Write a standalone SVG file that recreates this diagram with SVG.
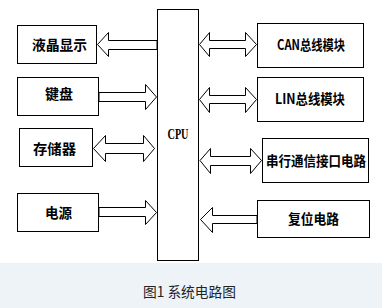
<svg xmlns="http://www.w3.org/2000/svg" width="382" height="308" viewBox="0 0 382 308">
<style>
.box{fill:#fff;stroke:#000;stroke-width:1}
.arr{fill:#fff;stroke:#000;stroke-width:1;stroke-linejoin:miter}
.lbl{font-family:"Noto Sans CJK SC","Liberation Serif",serif;font-weight:bold;font-size:14px;fill:#000;text-anchor:middle}
.en{font-family:"Liberation Serif","Noto Sans CJK SC",serif;font-weight:bold}
.cap{font-family:"Noto Sans CJK SC","Liberation Sans",sans-serif;font-size:14px;fill:#222}
</style>
<rect x="0" y="0" width="382" height="263" fill="#fff"/>
<rect x="0" y="263" width="382" height="45" fill="#eef3f8"/>
<g id="connectors">
<polygon class="arr" points="157,40.5 108.5,40.5 108.5,32.5 97.5,44.5 108.5,56.5 108.5,49.5 157,49.5"/>
<polygon class="arr" points="99,92.5 145.5,92.5 145.5,84.5 156.5,97 145.5,109.5 145.5,101.5 99,101.5"/>
<polygon class="arr" points="93.5,148.5 105.5,135.5 105.5,143.5 143.5,143.5 143.5,135.5 154.5,148.5 143.5,161.5 143.5,153.5 105.5,153.5 105.5,161.5"/>
<polygon class="arr" points="99,207.5 145.5,207.5 145.5,200.5 156.5,212.5 145.5,224.5 145.5,216.5 99,216.5"/>
<polygon class="arr" points="199.5,44.5 209.5,32.5 209.5,40.5 245.5,40.5 245.5,32.5 256.5,44.5 245.5,56.5 245.5,48.5 209.5,48.5 209.5,56.5"/>
<polygon class="arr" points="199.5,99.5 209.5,87.5 209.5,95.5 245.5,95.5 245.5,87.5 256.5,99.5 245.5,112.5 245.5,103.5 209.5,103.5 209.5,112.5"/>
<polygon class="arr" points="200,160.5 210.5,148.5 210.5,156.5 250.5,156.5 250.5,148.5 261.5,160.5 250.5,173.5 250.5,165.5 210.5,165.5 210.5,173.5"/>
<polygon class="arr" points="257,215.5 212.5,215.5 212.5,207.5 200.5,219.5 212.5,232.5 212.5,223.5 257,223.5"/>
</g>
<g id="cpu">
<rect class="box" x="157.5" y="9.5" width="41" height="251"/>
<text class="lbl en" x="178" y="139" font-size="12" textLength="21" lengthAdjust="spacingAndGlyphs">CPU</text>
</g>
<g id="lcd">
<rect class="box" x="17.5" y="25.5" width="79" height="38"/>
<text class="lbl" x="59.5" y="49.5" textLength="55" lengthAdjust="spacingAndGlyphs">液晶显示</text>
</g>
<g id="keyboard">
<rect class="box" x="17.5" y="77.5" width="81" height="38"/>
<text class="lbl" x="59" y="98.5">键盘</text>
</g>
<g id="storage">
<rect class="box" x="19.5" y="128.5" width="73" height="38"/>
<text class="lbl" x="54.5" y="153.5" textLength="43" lengthAdjust="spacingAndGlyphs">存储器</text>
</g>
<g id="power">
<rect class="box" x="17.5" y="193.5" width="81" height="38"/>
<text class="lbl" x="58.5" y="217.5" textLength="27" lengthAdjust="spacingAndGlyphs">电源</text>
</g>
<g id="can">
<rect class="box" x="257.5" y="23.5" width="106" height="44"/>
<text class="lbl" x="311" y="49.5" font-size="13" textLength="68" lengthAdjust="spacingAndGlyphs">CAN总线模块</text>
</g>
<g id="lin">
<rect class="box" x="257.5" y="77.5" width="106" height="44"/>
<text class="lbl" x="310" y="104" font-size="13" textLength="70" lengthAdjust="spacingAndGlyphs">LIN总线模块</text>
</g>
<g id="serial">
<rect class="box" x="262.5" y="138.5" width="106" height="44"/>
<text class="lbl" x="316" y="166" font-size="13.5" textLength="100" lengthAdjust="spacingAndGlyphs">串行通信接口电路</text>
</g>
<g id="reset">
<rect class="box" x="257.5" y="200.5" width="112" height="37"/>
<text class="lbl" x="313.5" y="224" font-size="13.5" textLength="51" lengthAdjust="spacingAndGlyphs">复位电路</text>
</g>
<text class="cap" x="143" y="297" textLength="93" lengthAdjust="spacingAndGlyphs">图1 系统电路图</text>
</svg>
